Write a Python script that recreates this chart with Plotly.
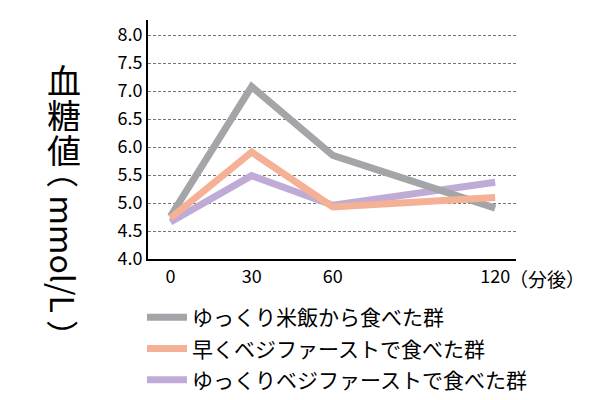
import plotly.graph_objects as go

minutes = [0, 30, 60, 120]
tick_labels = ["0", "30", "60", "120"]
names = ["ゆっくり米飯から食べた群", "早くベジファーストで食べた群", "ゆっくりベジファーストで食べた群"]
rice_slow = [4.76, 7.08, 5.85, 4.91]
veg_fast = [4.73, 5.91, 4.93, 5.10]
veg_slow = [4.66, 5.49, 4.96, 5.37]
colors = ["#a3a5a8", "#f4b195", "#bfabd5"]
y_ticks = [4.0, 4.5, 5.0, 5.5, 6.0, 6.5, 7.0, 7.5, 8.0]

FONT = "Noto Sans CJK JP"
L, R, T, B = 148, 84, 20, 141
PW, PH = 600 - L - R, 400 - T - B


def px_to_paper(px, py):
    return (px - L) / PW, (400 - B - py) / PH


fig = go.Figure()
series = [(veg_slow, 2, 3), (rice_slow, 0, 1), (veg_fast, 1, 2)]
for vals, idx, rank in series:
    fig.add_trace(go.Scatter(
        x=minutes, y=vals, mode="lines", name=names[idx],
        line=dict(color=colors[idx], width=7),
        legendrank=rank, legendgroup=str(idx),
    ))

lx, ly = px_to_paper(142, 297)
fig.update_layout(
    width=600, height=400,
    margin=dict(l=L, r=R, t=T, b=B, autoexpand=False),
    paper_bgcolor="white", plot_bgcolor="white",
    font=dict(family=FONT, color="black"),
    showlegend=True,
    legend=dict(
        x=lx, y=ly, xanchor="left", yanchor="top",
        font=dict(size=21, family=FONT), tracegroupgap=1,
        bgcolor="rgba(0,0,0,0)", itemwidth=40,
    ),
    xaxis=dict(
        range=[-8.3, 127.7], tickvals=minutes, ticktext=tick_labels,
        showgrid=False, zeroline=False, showline=True, linecolor="black",
        linewidth=2, ticks="", tickfont=dict(size=18, family=FONT),
    ),
    yaxis=dict(
        range=[4.0, 8.27], tickvals=y_ticks,
        ticktext=[f"{v:.1f}" for v in y_ticks],
        showgrid=True, gridcolor="#777777", gridwidth=1, griddash="3px,2px",
        zeroline=False, showline=True, linecolor="black", linewidth=2,
        ticks="", tickfont=dict(size=18, family=FONT),
    ),
)

fig.add_annotation(x=120, y=0, xref="x", yref="paper", text="（分後）",
                   showarrow=False, xanchor="left", yanchor="top",
                   xshift=12, yshift=-4, font=dict(size=19, family=FONT))

for ch, py in zip("血糖値", [79, 114, 149]):
    ax, ay = px_to_paper(64, py)
    fig.add_annotation(x=ax, y=ay, xref="paper", yref="paper", text=ch,
                       showarrow=False, xanchor="center", yanchor="middle",
                       height=34, font=dict(size=34, family=FONT))

ax, ay = px_to_paper(64, 254)
fig.add_annotation(x=ax, y=ay, xref="paper", yref="paper",
                   text="（ mmol/L ）", showarrow=False, textangle=90,
                   xanchor="center", yanchor="middle",
                   font=dict(size=32, family=FONT))

fig.write_html("out.html")
